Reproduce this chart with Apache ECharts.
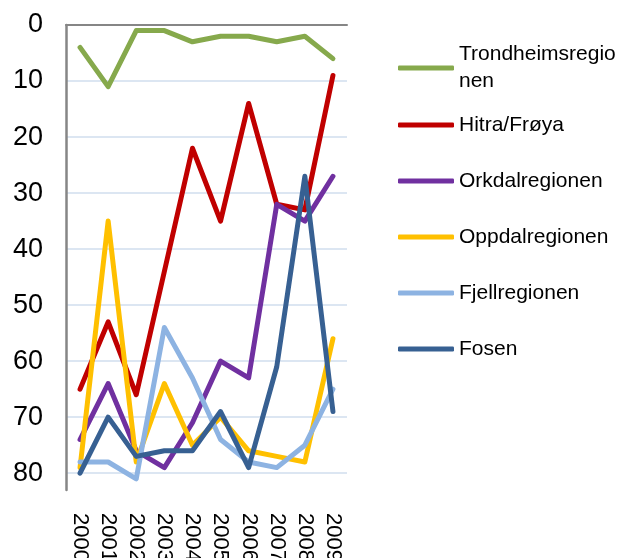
<!DOCTYPE html>
<html>
<head>
<meta charset="utf-8">
<script src="https://cdn.jsdelivr.net/npm/echarts@6/dist/echarts.min.js"></script>
<style>
  html, body { margin: 0; padding: 0; background: #fff; }
  #chart { width: 622px; height: 558px; }
</style>
</head>
<body>
<div id="chart"></div>
<script>
const years = ['2000', '2001', '2002', '2003', '2004', '2005', '2006', '2007', '2008', '2009'];
const yTicks = [0, 10, 20, 30, 40, 50, 60, 70, 80];

const trondheim = [4, 11, 1, 1, 3, 2, 2, 3, 2, 6];
const hitra = [65, 53, 66, 44, 22, 35, 14, 32, 33, 9];
const orkdal = [74, 64, 76, 79, 71, 60, 63, 32, 35, 27];
const oppdal = [79, 35, 78, 64, 75, 70, 76, 77, 78, 56];
const fjell = [78, 78, 81, 54, 63, 74, 78, 79, 75, 65];
const fosen = [80, 70, 77, 76, 76, 69, 79, 61, 27, 69];

const names = ['Trondheimsregionen', 'Hitra/Frøya', 'Orkdalregionen', 'Oppdalregionen', 'Fjellregionen', 'Fosen'];
const colors = ['#86a94c', '#c00000', '#7030a0', '#ffc000', '#8db3e2', '#376092'];
const values = [trondheim, hitra, orkdal, oppdal, fjell, fosen];
// legend row centres (px)
const legendY = [68, 125, 181, 237, 293, 349];

const chart = echarts.init(document.getElementById('chart'));
const FONT = '"Liberation Sans", Arial, sans-serif';
const LH = 27;

let legends = names.map((n, i) => {
  let twoLine = i === 0;
  return {
    data: [n],
    orient: 'vertical',
    left: 398,
    top: twoLine ? legendY[i] - 1.5 * LH : legendY[i] - LH / 2,
    padding: 0,
    icon: 'roundRect',
    itemWidth: 56,
    itemHeight: 5,
    formatter: twoLine ? 'Trondheimsregio\nnen' : '{name}',
    textStyle: {
      fontFamily: FONT,
      fontSize: 21,
      lineHeight: LH,
      color: '#000',
      padding: twoLine ? [LH, 0, 0, 0] : 0
    }
  };
});

let option = {
  animation: false,
  backgroundColor: '#fff',
  grid: { left: 66, right: 275, top: 25, bottom: 68, containLabel: false, outerBoundsMode: 'none' },
  legend: legends,
  xAxis: [
    {
      type: 'category',
      position: 'top',
      boundaryGap: true,
      data: years,
      axisLine: { show: true, lineStyle: { color: '#868686', width: 2 } },
      axisTick: { show: false },
      axisLabel: { show: false },
      splitLine: { show: false }
    },
    {
      type: 'category',
      position: 'bottom',
      boundaryGap: true,
      data: years,
      axisLine: { show: false },
      axisTick: { show: false },
      axisLabel: {
        interval: 0,
        hideOverlap: false,
        rotate: -90,
        margin: 23,
        fontFamily: FONT,
        fontSize: 22,
        color: '#000'
      }
    }
  ],
  yAxis: {
    type: 'value',
    inverse: true,
    min: 0,
    max: 83,
    interval: 10,
    axisLine: { show: true, lineStyle: { color: '#868686', width: 2.5 } },
    axisTick: { show: false },
    axisLabel: {
      margin: 23,
      fontFamily: FONT,
      fontSize: 27,
      color: '#000',
      showMaxLabel: false,
      formatter: v => (yTicks.indexOf(v) >= 0 ? String(v) : '')
    },
    splitLine: {
      show: true,
      lineStyle: {
        width: 2,
        color: ['#dce6f2', '#dce6f2', '#dce6f2', '#dce6f2', '#dce6f2', '#dce6f2', '#dce6f2', '#dce6f2', '#dce6f2', 'rgba(0,0,0,0)']
      }
    }
  },
  series: names.map((n, i) => ({
    name: n,
    type: 'line',
    xAxisIndex: 0,
    data: values[i],
    symbol: 'none',
    itemStyle: { color: colors[i] },
    lineStyle: { width: 5, color: colors[i], cap: 'round', join: 'round' }
  }))
};

chart.setOption(option);
</script>
</body>
</html>
